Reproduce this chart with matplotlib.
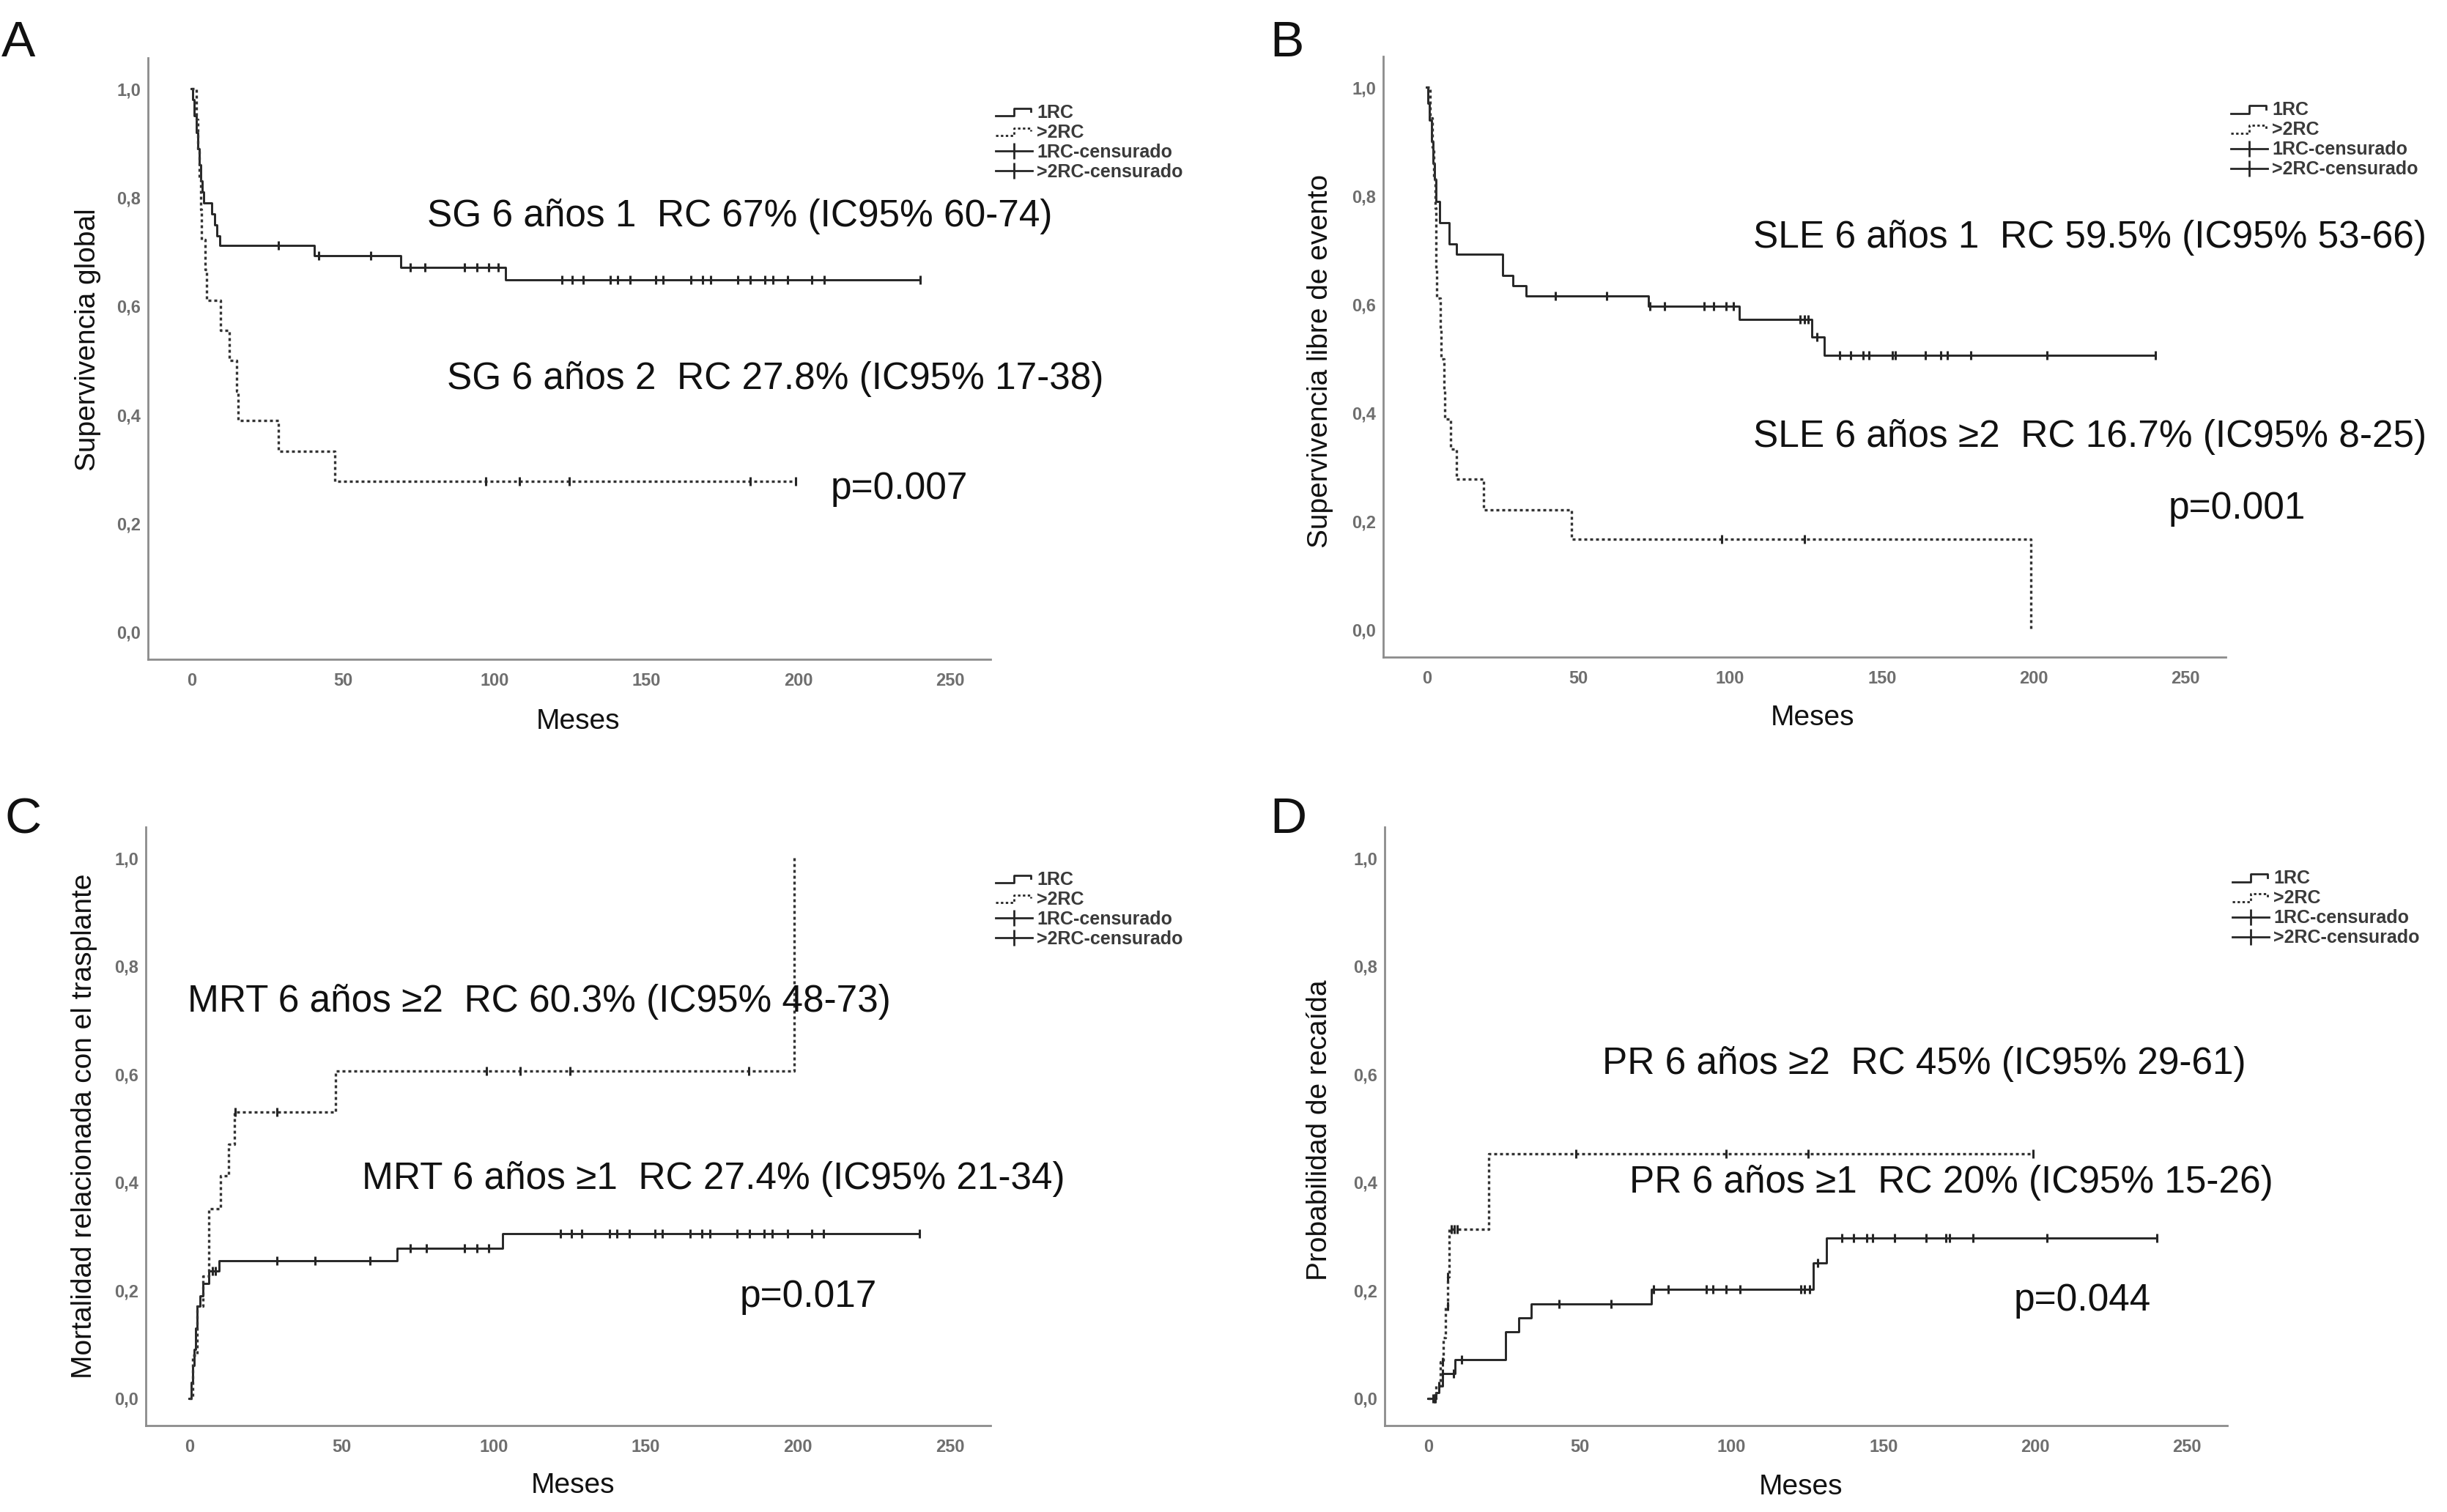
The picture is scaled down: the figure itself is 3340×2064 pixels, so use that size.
import numpy as np
import matplotlib.pyplot as plt
from matplotlib.lines import Line2D
from matplotlib.legend_handler import HandlerBase
from matplotlib.ticker import FuncFormatter

# ---- values: months, step value after each event ----
# A  overall survival
a1_t = [0, 0.5, 1.0, 1.5, 2.0, 2.5, 3.0, 3.5, 4.0, 6.8, 7.6, 8.4, 9.3, 40.5, 69.0, 103.5, 240]
a1_v = [1.0, 0.98, 0.95, 0.92, 0.89, 0.86, 0.83, 0.81, 0.79, 0.77, 0.75, 0.73, 0.712, 0.693, 0.672, 0.648, 0.648]
a1_cens = [28.7, 41.9, 59, 72, 77, 90, 94, 98, 101, 122, 125.5, 129, 138, 140.5, 144.5, 153, 155.5,
           164.5, 168.5, 171, 180, 184, 189, 191.5, 196.5, 204.5, 208.5, 240]
a2_t = [0, 1.5, 2.2, 2.6, 3.0, 3.4, 4.4, 5.0, 9.7, 12.5, 15.0, 15.3, 28.6, 47.3, 199]
a2_v = [1.0, 0.944, 0.889, 0.833, 0.778, 0.722, 0.667, 0.611, 0.556, 0.5, 0.444, 0.389, 0.333, 0.278, 0.278]
a2_cens = [97, 108, 124.5, 184, 199]

# B  event free survival
b1_t = [0, 0.5, 1.0, 1.5, 2.0, 2.5, 3.0, 4.2, 7.4, 9.9, 25.0, 28.4, 32.7, 73.0, 103.0, 127.0, 131.0, 240]
b1_v = [1.0, 0.97, 0.94, 0.9, 0.86, 0.83, 0.79, 0.75, 0.711, 0.692, 0.654, 0.634, 0.616, 0.597, 0.572,
        0.54, 0.506, 0.506]
b1_cens = [42.4, 59.2, 73.5, 78.4, 91.3, 94.5, 98.6, 101, 123, 124.4, 125.6, 128.7, 136, 139.8, 143.7,
           145.8, 153.5, 154.5, 164.3, 169.5, 171.6, 179.3, 204.3, 240]
b2_t = [0, 1.2, 1.8, 2.3, 2.7, 3.0, 3.1, 3.3, 4.5, 4.7, 5.7, 5.9, 7.8, 9.9, 18.7, 47.8, 199]
b2_v = [1.0, 0.944, 0.889, 0.833, 0.778, 0.722, 0.667, 0.611, 0.556, 0.5, 0.444, 0.389, 0.333, 0.278,
        0.222, 0.167, 0.0]
b2_cens = [97.3, 124.4]

# C  transplant related mortality
c1_t = [0, 0.5, 1.0, 1.5, 2.0, 2.6, 3.5, 4.4, 6.4, 9.8, 68.2, 102.9, 240]
c1_v = [0, 0.03, 0.06, 0.09, 0.13, 0.17, 0.19, 0.213, 0.236, 0.255, 0.278, 0.305, 0.305]
c1_cens = [7.7, 8.5, 28.8, 41.2, 59.4, 72.5, 77.9, 90.5, 94.5, 98.3, 122, 125.5, 129, 138, 140.5, 144.5,
           153, 155.5, 164.5, 168.5, 171, 180, 184, 189, 191.5, 196.5, 204.5, 208.5, 240]
c2_t = [0, 1.0, 2.6, 4.4, 6.4, 10.3, 12.9, 14.7, 48.1, 198.8]
c2_v = [0, 0.08, 0.17, 0.226, 0.351, 0.412, 0.47, 0.529, 0.606, 1.0]
c2_cens = [15.0, 28.8, 97.7, 108.8, 125, 183.9]

# D  relapse probability
d1_t = [0, 2.5, 3.5, 4.7, 8.9, 25.6, 29.9, 33.9, 73.5, 127.0, 131.2, 240]
d1_v = [0, 0.011, 0.022, 0.045, 0.072, 0.123, 0.149, 0.175, 0.201, 0.25, 0.297, 0.297]
d1_cens = [1.5, 2.0, 2.3, 3.5, 4.7, 8.3, 11.1, 43.2, 60.3, 74.3, 79.1, 91.7, 93.8, 98.1, 102.8, 122.7,
           124, 125.8, 128.4, 136.4, 140.2, 144.6, 146.4, 153.7, 164, 170.5, 171.8, 179.5, 204, 240]
d2_t = [0, 2.5, 4.0, 5.0, 5.8, 6.5, 7.0, 20.0, 199.4]
d2_v = [0, 0.022, 0.067, 0.112, 0.17, 0.225, 0.313, 0.453, 0.453]
d2_cens = [4.7, 6.5, 6.4, 7.6, 8.7, 9.5, 48.6, 98.1, 125.3, 199.4]

legend_labels = ['1RC', '>2RC', '1RC-censurado', '>2RC-censurado']
x_ticks = [0, 50, 100, 150, 200, 250]
y_ticks = [0.0, 0.2, 0.4, 0.6, 0.8, 1.0]

LINE = '#262626'
DOTS = (0, (1.2, 1.2))
plt.rcParams['font.family'] = ['Liberation Sans', 'DejaVu Sans']


def at(t, v, x):
    idx = np.searchsorted(t, x, side='right') - 1
    return np.asarray(v)[idx]


class StepHandler(HandlerBase):
    def create_artists(self, legend, orig, xd, yd, w, h, fontsize, trans):
        x0, y0 = -xd, -yd
        xs = [x0, x0 + 0.5 * w, x0 + 0.5 * w, x0 + 0.95 * w, x0 + 0.95 * w]
        ys = [y0 + 0.15 * h, y0 + 0.15 * h, y0 + 0.75 * h, y0 + 0.75 * h, y0 + 0.5 * h]
        ln = Line2D(xs, ys)
        ln.update_from(orig)
        ln.set_transform(trans)
        return [ln]


def panel(ax, s1, s2, ylabel, ylab_pos, notes, meses_pos, leg_top):
    t1, v1, c1 = s1
    t2, v2, c2 = s2
    ax.step(t1, v1, where='post', color=LINE, lw=2.1)
    ax.step(t2, v2, where='post', color='#333333', lw=2.4, ls=DOTS)
    ax.plot(c1, at(t1, v1, c1), ls='none', marker='|', ms=9, mew=2.2, color=LINE)
    ax.plot(c2, at(t2, v2, c2), ls='none', marker='|', ms=9, mew=2.2, color=LINE)

    ax.set_xlim(-14.3, 263.3)
    ax.set_ylim(-0.05, 1.057)
    ax.set_xticks(x_ticks)
    ax.set_yticks(y_ticks)
    ax.yaxis.set_major_formatter(FuncFormatter(lambda v, p: f'{v:.1f}'.replace('.', ',')))
    ax.tick_params(length=0, colors='#6e6e6e', labelsize=17)
    ax.tick_params(axis='x', pad=13)
    ax.tick_params(axis='y', pad=7)
    for lab in ax.get_xticklabels() + ax.get_yticklabels():
        lab.set_fontweight('bold')
    for side in ['top', 'right']:
        ax.spines[side].set_visible(False)
    for side in ['left', 'bottom']:
        ax.spines[side].set_color('#8c8c8c')
        ax.spines[side].set_linewidth(2.0)

    ax.text(ylab_pos[0], ylab_pos[1], ylabel, rotation=90, ha='center', va='center',
            fontsize=28, color='#111111')
    ax.text(meses_pos[0], meses_pos[1], 'Meses', ha='center', va='baseline', fontsize=28,
            color='#111111')
    for x, y, s in notes:
        ax.text(x, y, s, ha='left', va='baseline', fontsize=37, color='#111111')

    h1 = Line2D([], [], color=LINE, lw=2.0)
    h2 = Line2D([], [], color=LINE, lw=2.0, ls=DOTS)
    h3 = Line2D([], [], color=LINE, lw=2.0, marker='|', ms=16, mew=2.0)
    h4 = Line2D([], [], color=LINE, lw=2.0, marker='|', ms=16, mew=2.0)
    ax.legend([h1, h2, h3, h4], legend_labels, handler_map={h1: StepHandler(), h2: StepHandler()},
              loc='upper left', bbox_to_anchor=(265, leg_top), bbox_transform=ax.transData,
              frameon=False, borderpad=0, borderaxespad=0, handlelength=2.0, handletextpad=0.25,
              labelspacing=0.12, numpoints=1, prop={'size': 18, 'weight': 'bold'},
              labelcolor='#3a3a3a')


fig = plt.figure(figsize=(33.4, 20.64), dpi=100)
axA = fig.add_axes([0.0605, 0.564, 0.3443, 0.3977])
axB = fig.add_axes([0.5653, 0.5654, 0.3443, 0.3973])
axC = fig.add_axes([0.0596, 0.0574, 0.3452, 0.3956])
axD = fig.add_axes([0.5659, 0.0574, 0.3443, 0.3956])

panel(axA, (a1_t, a1_v, a1_cens), (a2_t, a2_v, a2_cens), 'Supervivencia global', (-34.0, 0.538),
      [(77.7, 0.747, 'SG 6 años 1  RC 67% (IC95% 60-74)'),
       (84.2, 0.448, 'SG 6 años 2  RC 27.8% (IC95% 17-38)'),
       (210.7, 0.245, 'p=0.007')],
      (127.3, -0.178), 0.972)
panel(axB, (b1_t, b1_v, b1_cens), (b2_t, b2_v, b2_cens), 'Supervivencia libre de evento', (-35.0, 0.495),
      [(107.6, 0.704, 'SLE 6 años 1  RC 59.5% (IC95% 53-66)'),
       (107.6, 0.337, 'SLE 6 años ≥2  RC 16.7% (IC95% 8-25)'),
       (244.3, 0.205, 'p=0.001')],
      (127.2, -0.175), 0.974)
panel(axC, (c1_t, c1_v, c1_cens), (c2_t, c2_v, c2_cens), 'Mortalidad relacionada con el trasplante',
      (-34.5, 0.504),
      [(-0.5, 0.716, 'MRT 6 años ≥2  RC 60.3% (IC95% 48-73)'),
       (56.6, 0.387, 'MRT 6 años ≥1  RC 27.4% (IC95% 21-34)'),
       (180.8, 0.169, 'p=0.017')],
      (126.0, -0.175), 0.976)
panel(axD, (d1_t, d1_v, d1_cens), (d2_t, d2_v, d2_cens), 'Probabilidad de recaída', (-35.8, 0.496),
      [(57.3, 0.600, 'PR 6 años ≥2  RC 45% (IC95% 29-61)'),
       (66.4, 0.380, 'PR 6 años ≥1  RC 20% (IC95% 15-26)'),
       (192.9, 0.162, 'p=0.044')],
      (122.7, -0.178), 0.978)

for x, y, s in [(0.0005, 0.9627, 'A'), (0.519, 0.9627, 'B'), (0.0018, 0.4491, 'C'), (0.519, 0.4491, 'D')]:
    fig.text(x, y, s, fontsize=50, ha='left', va='baseline', color='#111111')

fig.savefig('out.png', dpi=100)
